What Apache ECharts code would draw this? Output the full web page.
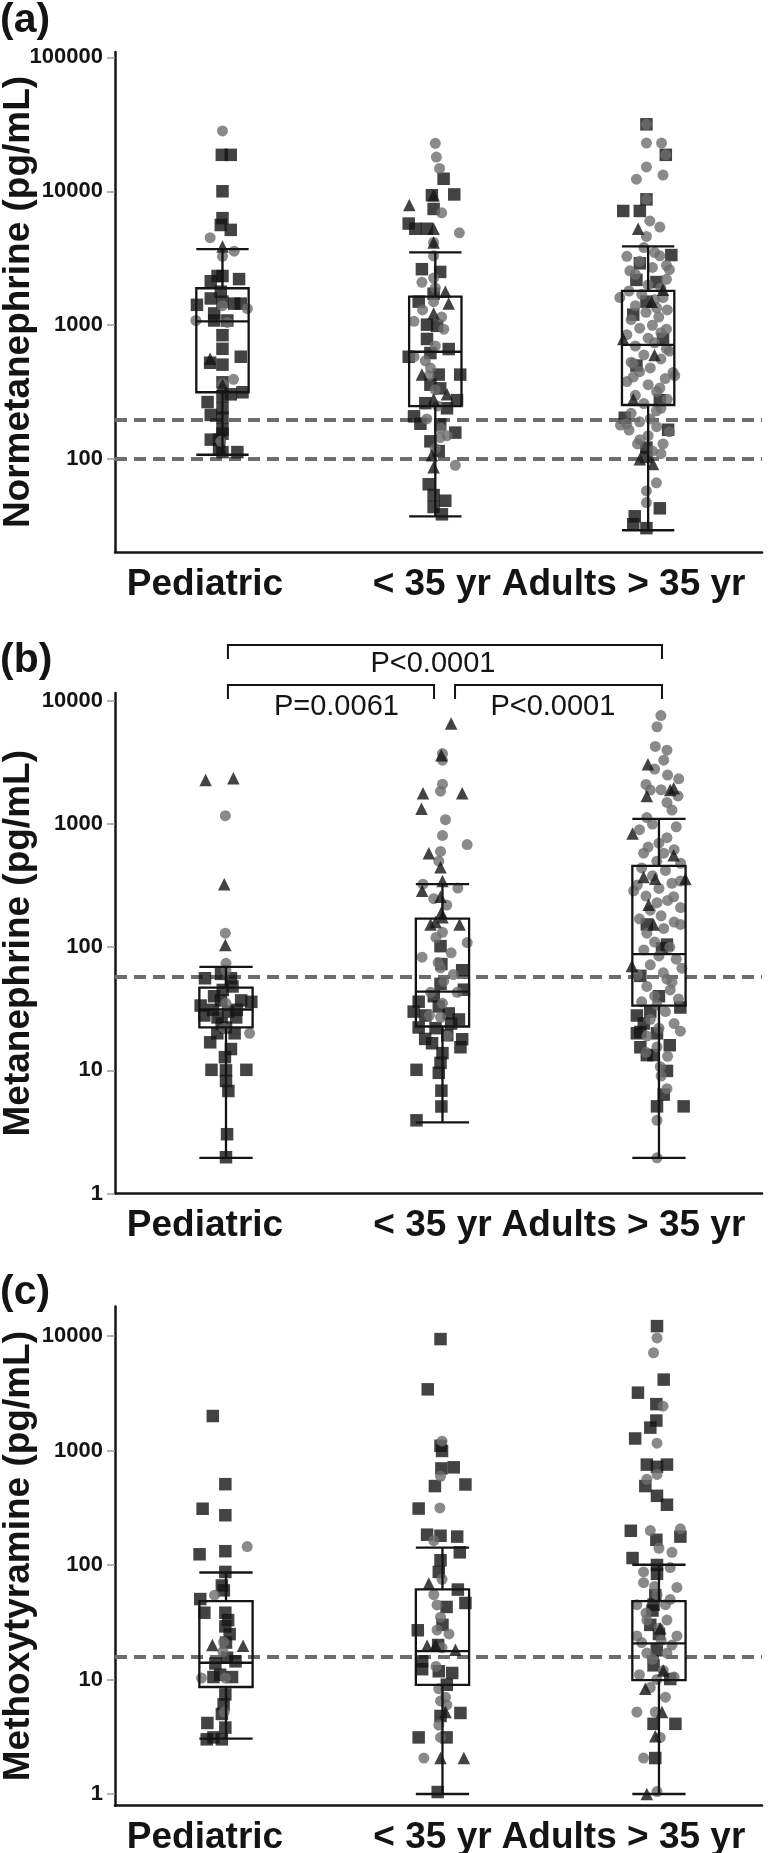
<!DOCTYPE html>
<html>
<head>
<meta charset="utf-8">
<script src="https://cdn.jsdelivr.net/npm/echarts@6/dist/echarts.min.js"></script>
<style>
html, body { margin: 0; padding: 0; background: #fff; }
#main { width: 774px; height: 1853px; }
</style>
</head>
<body>
<div id="main"></div>
<script>
// x axis groups
var groupNames = ['Pediatric', '< 35 yr', 'Adults > 35 yr'];
var groupCenters = [0.5, 1.5, 2.5];

// (a) Normetanephrine, points are [jitter (1/100 of a group), pg/mL]
var nmPedSquares = [[-0.3, 18700], [3.9, 18700], [0, 10000], [0, 6300], [-0.8, 5600], [3.9, 5150], [-2.3, 2330], [0, 2330], [-5.5, 2130], [7.8, 2210], [-0.8, 1780], [-12, 1420], [-5.5, 1585], [0, 1500], [5.5, 1450], [8.6, 1450], [-3.9, 1225], [2.3, 1085], [-3.9, 1085], [0, 843], [0, 667], [8.6, 582], [-5.8, 525], [0, 508], [0, 375], [3.9, 305], [9.4, 316], [0, 295], [-7, 267], [0, 240], [-5.5, 214], [0, 204], [0, 166], [0, 155], [-5.5, 140], [-1.6, 140], [-1.6, 119], [7, 113], [0, 113]];
var nmPedCircles = [[0, 28200], [-5.8, 4500], [5.5, 3570], [0, 3270], [11.7, 1330], [-12.5, 1085], [5.2, 395], [0, 367], [-0.8, 136], [2.3, 1050], [0, 1400]];
var nmPedTriangles = [[0, 3875], [-5.8, 562], [0, 360]];
var nmMidSquares = [[3.9, 12400], [8.9, 9470], [-1.6, 9340], [-0.8, 7380], [-12.5, 5740], [-9.4, 5250], [-3.9, 5250], [-6.3, 2620], [2.3, 2500], [-0.8, 1720], [-7.8, 1500], [-3.9, 1010], [0.8, 990], [-3.9, 790], [6.3, 664], [-12.5, 582], [-2.3, 620], [1.6, 428], [11.7, 428], [-2.3, 360], [2.3, 338], [10.2, 276], [-4.7, 262], [5.5, 240], [-10, 209], [-7, 184], [2.3, 182], [9.4, 158], [-2.3, 136], [1.6, 115], [-3.1, 65], [-0.8, 54], [4.7, 49], [-0.8, 44], [3.1, 38.8]];
var nmMidCircles = [[0, 22800], [0.5, 18000], [2, 14800], [3, 6900], [11.3, 4900], [-0.8, 4150], [-0.8, 3300], [-0.8, 2250], [-6.3, 2090], [0, 1900], [-0.8, 1500], [-10, 1070], [4, 935], [0, 700], [-10, 582], [-4.7, 543], [-2.3, 480], [0, 330], [5.5, 150], [2.3, 145], [9.4, 90], [0, 120], [-6, 1300], [3, 1150], [-3, 420], [1, 250], [-4, 200], [2.5, 170]];
var nmMidTriangles = [[-12.2, 7900], [-0.8, 9340], [-0.8, 5250], [-0.8, 4150], [4.7, 1780], [6.3, 1450], [-0.8, 1225], [-6.3, 428], [5.5, 305], [-0.8, 280], [-1.6, 107], [-0.8, 87]];
var nmAdultSquares = [[-0.8, 31600], [8.3, 18700], [-0.8, 8700], [-11.7, 7130], [-3.9, 7130], [10.9, 3340], [-3.9, 2900], [-5.5, 2180], [3.9, 2100], [-0.8, 1500], [-7, 1200], [7, 790], [-5.5, 500], [5.5, 276], [-11, 204], [9.4, 166], [-0.8, 122], [-0.8, 104], [5.5, 43], [-6.3, 37.5], [-7, 32.7], [-0.8, 30.6]];
var nmAdultCircles = [[-0.8, 31600], [-0.8, 22900], [6.3, 22900], [8.3, 18700], [-0.8, 15200], [7, 13200], [-5.5, 12300], [-0.8, 8700], [0.8, 6000], [5.5, 5400], [-0.8, 4600], [-10, 3270], [5.5, 3300], [8.6, 2800], [-8.6, 2550], [10, 2600], [-13.3, 1610], [8.6, 2200], [7, 1610], [4, 1350], [8.6, 935], [8.6, 665], [11.7, 444], [12.5, 420], [-7, 520], [-7, 410], [5.5, 340], [3.9, 230], [-10, 184], [-13, 180], [-3.9, 140], [7, 130], [3.9, 66.7], [-0.8, 58], [-0.8, 47.5],
  [-2, 3800], [3, 3500], [-4, 3000], [2, 2700], [-6, 2400], [0, 2000], [6, 1900], [-9, 1800], [-3, 1700], [3, 1550], [-6, 1400], [9, 1300], [-1, 1250], [5, 1150], [-8, 1100], [2, 1000], [-4, 950], [6, 880], [-10, 850], [0, 800], [3, 740], [-6, 700], [10, 640], [-2, 600], [6, 560], [-8, 530], [1, 480], [-4, 450], [8, 400], [-10, 380], [0, 360], [4, 320], [-6, 300], [9, 280], [-2, 260], [6, 240], [-8, 220], [1, 200], [-4, 190], [4, 175], [-9, 165], [10, 160], [0, 150], [-5, 130], [2, 115], [6, 110]];
var nmAdultTriangles = [[-4.7, 5250], [7, 1840], [-11.7, 790], [1.6, 1500], [-3.9, 100], [2.3, 92], [-7, 280], [3, 600]];
// low whisker, Q1, median, Q3, high whisker
var nmBoxes = [[108, 316, 1070, 1888, 3700], [37.4, 249, 634, 1638, 3500], [29.5, 254, 713, 1803, 3875]];
var nmRefLines = [100, 198];
var nmTicks = [100, 1000, 10000, 100000];

// (b) Metanephrine
var mnPedSquares = [[-9.7, 56], [-2.3, 60.7], [2.3, 56], [11.7, 36], [-10, 27.9], [-11.7, 33.6], [-5.5, 40], [4.7, 26.9], [7, 37], [-2.3, 37], [-3.9, 26.9], [0, 22.3], [-7.3, 16.9], [2.3, 14.9], [-0.5, 12.8], [-6.7, 10.1], [9.4, 10.1], [0, 10], [0, 8.2], [1.1, 6.8], [0.5, 3.03], [0, 1.97], [-1.5, 45], [3, 48], [-6, 31], [5, 31], [1, 30], [-2, 24], [4, 20], [-4, 20]];
var mnPedCircles = [[-0.3, 1170], [-0.3, 130], [0, 74], [10.9, 20], [0, 35], [-0.8, 22], [0, 65]];
var mnPedTriangles = [[-9.4, 2276], [3.4, 2360], [-0.8, 325], [-0.3, 104]];
var mnMidSquares = [[-0.9, 102], [-0.5, 73], [9.1, 65], [-0.9, 50.4], [9.9, 45.2], [-11, 36.1], [-13.3, 30], [-1.7, 33], [-7.9, 27.9], [2.9, 29], [7.6, 25.9], [-11, 22.3], [-3.2, 22], [2.2, 19.3], [9.1, 17.9], [8.3, 15.4], [-4.8, 16.6], [0, 13.8], [-0.9, 11.5], [-12, 10.1], [-1.7, 9.55], [-0.5, 6.84], [-0.5, 5.09], [-12, 3.93], [-4, 40], [4, 24], [-8, 18]];
var mnMidCircles = [[0, 3740], [0, 3300], [0, 2110], [-0.9, 1850], [1.4, 1086], [0, 809], [11.4, 682], [-0.9, 600], [-1.7, 500], [-9, 325], [7.1, 302], [-4, 248], [0, 132], [-9.4, 83], [11.4, 109], [-0.9, 68], [0.6, 53], [-5.5, 43], [6.8, 43], [0, 35], [-0.9, 27], [2.2, 19], [4, 90], [-3, 120], [2, 220], [-2, 75], [5, 60], [-6, 28]];
var mnMidTriangles = [[4, 6570], [-9, 1780], [9.1, 1780], [-9.7, 1330], [-0.5, 3630], [-6.3, 580], [-0.9, 447], [-9.4, 287], [0, 345], [-0.9, 257], [-0.5, 191], [-5.5, 153], [7.9, 153], [-3.2, 160], [0, 175]];
var mnAdultSquares = [[-5.6, 153], [-8.6, 58.5], [1.4, 98], [3.7, 105], [9.9, 32.4], [-10.2, 27.9], [-10.2, 20], [-8.6, 15.4], [-2.5, 13.3], [-0.9, 20], [3.7, 9.9], [2.2, 6.35], [-0.9, 5.1], [11.4, 5.1], [-5.6, 13.3], [-8.6, 20.5], [0, 40], [-4, 30], [5, 16], [-7, 24]];
var mnAdultCircles = [[0.9, 7600], [-0.9, 6170], [-1.7, 4270], [3.7, 3980], [2.2, 3300], [9.1, 2330], [-4, 1890], [8.8, 1694], [3.7, 1500], [-5.6, 1130], [3.7, 776], [-7.1, 580], [2.2, 580], [-11.7, 287], [9.9, 345], [6.8, 257], [-0.9, 230], [2.2, 142], [-5.6, 130], [9.9, 153], [10.6, 67.6], [3.7, 55], [-5.6, 48], [5.2, 45], [-0.9, 34], [9.9, 20.8], [-5.6, 19], [-0.9, 15.5], [0.6, 10.7], [3.7, 7.1], [-0.9, 3.93], [-0.9, 1.95],
  [-2, 2800], [4, 2500], [-6, 2100], [1, 1900], [6, 1300], [-3, 1000], [8, 950], [-9, 900], [0, 700], [-5, 650], [7, 620], [-1, 500], [10, 480], [-8, 440], [3, 420], [-3, 380], [6, 330], [-10, 320], [0, 300], [-6, 260], [4, 240], [10, 210], [-4, 200], [1, 180], [-9, 170], [7, 160], [-2, 110], [5, 100], [-7, 95], [0, 85], [8, 80], [-4, 72], [2, 62], [-10, 60], [6, 52], [-2, 40], [9, 38], [-8, 36], [3, 30], [-4, 26], [7, 24], [0, 22], [-6, 14], [4, 13], [1, 9]];
var mnAdultTriangles = [[-5.1, 3060], [-5.6, 1694], [5.2, 1893], [6.8, 1950], [-12.2, 840], [6.8, 559], [-7.1, 371], [-1.7, 360], [12.2, 358], [-4.8, 221], [-12.5, 70.3], [-2.5, 153]];
var mnBoxes = [[1.95, 22.3, 31.2, 46.9, 69.3], [3.78, 22.7, 43.6, 171, 325], [1.95, 33.6, 87.9, 457, 1104]];
var mnRefLines = [58];
var mnTicks = [1, 10, 100, 1000, 10000];
// significance brackets in (b): ends on the x axis, label position, row
var sigPairs = [[0.509, 2.514], [0.509, 1.461], [1.558, 2.514]];
var sigRows = [1, 2, 2];
var sigTextX = [1.456, 1.01, 2.01];
var sigLabels = ['P<0.0001', 'P=0.0061', 'P<0.0001'];

// (c) Methoxytyramine
var mtPedSquares = [[-6.1, 2000], [-0.3, 508], [-10.8, 310], [-0.3, 272], [-12.2, 124], [-0.3, 132], [-0.3, 87], [-1.9, 66.2], [-11.9, 50.4], [-10, 38.3], [-0.3, 38.3], [-0.3, 29.1], [1.7, 24.9], [-4.9, 13.8], [4.4, 14.4], [0.5, 15.5], [-5.8, 10.5], [2.8, 10.5], [-2.7, 11], [-0.3, 7.4], [-1.1, 6.06], [-1.9, 5], [-0.3, 3.8], [-8.6, 4.17], [-5.8, 3.12], [-1.9, 3.0], [-8.9, 3.0], [0, 21], [1, 33], [-1, 60]];
var mtPedCircles = [[9.8, 145], [-5.3, 54.5], [-1.1, 21.3], [-1.4, 17.5], [-11.3, 10.3], [-0.3, 10.3], [-0.8, 5.2]];
var mtPedTriangles = [[-6.3, 20], [7.9, 19.7]];
var mtMidSquares = [[-0.9, 9400], [-6.8, 3420], [-0.2, 991], [-0.9, 1100], [-0.5, 697], [5.2, 713], [-3.5, 489], [10.6, 505], [-11, 311], [-7.1, 184], [-0.9, 180], [6.8, 177], [8, 129], [-0.9, 110], [-1.7, 87], [7.1, 61], [10.6, 46.6], [1.9, 43], [-11.4, 26.9], [-9.4, 14.4], [-9.4, 12.3], [4.5, 11.4], [-1.7, 11.8], [8.3, 5.1], [-11, 3.12], [1.9, 3.12], [-0.9, 4.8], [-2.2, 1.04], [0, 30], [-2, 20], [2, 9]];
var mtMidCircles = [[-0.2, 1205], [-0.9, 595], [-1.2, 315], [-4, 163], [-0.2, 75], [-2.5, 44.8], [-0.9, 35], [-2.5, 27], [-0.2, 18.9], [-1.7, 8.3], [-0.9, 6.5], [1.4, 7], [-0.9, 3.12], [-8.6, 2.06], [-1.7, 4], [-4, 55], [3, 25], [-3, 13], [2, 6]];
var mtMidTriangles = [[-6.3, 68.8], [-7.1, 19.7], [-3.2, 20], [6, 18.2], [1.4, 5.2], [-0.9, 2.06], [9.9, 2.06]];
var mtAdultSquares = [[-0.9, 12200], [2.2, 4160], [-9.7, 3200], [-1.2, 2540], [-1.2, 1826], [-4, 1585], [-11, 1273], [-5.6, 753], [3.7, 753], [-0.9, 720], [-6.3, 489], [-0.9, 402], [3.7, 336], [-13, 199], [9.9, 177], [-1.2, 166], [-12.2, 115], [-0.9, 100], [-0.9, 83.7], [-1.7, 54.5], [-2.5, 45], [-4, 30], [-2.5, 13.3], [5.2, 10.1], [7.6, 4.1], [-2.5, 4.1], [-1.7, 2.06], [-3, 40], [0, 25], [-1, 18]];
var mtAdultCircles = [[-0.9, 9620], [-2.5, 7140], [1.9, 2440], [-0.9, 1159], [-0.9, 618], [-5.6, 560], [9.9, 207], [-4, 200], [0, 140], [6, 129], [-7.1, 87], [5.2, 95], [8.3, 63.7], [-7.1, 70], [-0.9, 55], [5.2, 50], [-10.2, 45], [-5.6, 33], [3.7, 33], [-10.2, 24], [8.3, 24], [-5.6, 17], [3.7, 17], [-8, 21], [0, 28], [6, 20], [-3, 15], [2, 12], [-9, 11], [7, 10.5], [-4, 8.5], [3, 7], [-10.2, 5.2], [-1.7, 5.2], [0.6, 3.12], [-7.1, 2.06], [-0.9, 1.05], [-2, 65], [3, 45], [-6, 38], [1, 22], [-1, 10]];
var mtAdultTriangles = [[-6.3, 8.3], [1.4, 5.2], [-1.7, 3.2], [-5.6, 1.0], [0.6, 28], [2, 12]];
var mtBoxes = [[3.04, 8.6, 14.0, 48.4, 86], [1.0, 8.98, 17.7, 61.2, 141.6], [1.0, 9.86, 20.7, 48.4, 100.5]];
var mtRefLines = [15.8];
var mtTicks = [1, 10, 100, 1000, 10000];

var panels = [
  { letter: '(a)', title: 'Normetanephrine (pg/mL)', squares: [nmPedSquares, nmMidSquares, nmAdultSquares], circles: [nmPedCircles, nmMidCircles, nmAdultCircles], triangles: [nmPedTriangles, nmMidTriangles, nmAdultTriangles], boxes: nmBoxes, refs: nmRefLines, ticks: nmTicks,
    grid: { top: 52, height: 500 }, xRange: [-0.005, 3.035], yRange: [20.3, 109500], letterTop: 0, labelShift: [-17.5, -3.5, -24.5] },
  { letter: '(b)', title: 'Metanephrine (pg/mL)', squares: [mnPedSquares, mnMidSquares, mnAdultSquares], circles: [mnPedCircles, mnMidCircles, mnAdultCircles], triangles: [mnPedTriangles, mnMidTriangles, mnAdultTriangles], boxes: mnBoxes, refs: mnRefLines, ticks: mnTicks,
    grid: { top: 693, height: 500.5 }, xRange: [-0.0127, 2.976], yRange: [1, 11600], letterTop: 640, labelShift: [-21, -10, -35.5] },
  { letter: '(c)', title: 'Methoxytyramine (pg/mL)', squares: [mtPedSquares, mtMidSquares, mtAdultSquares], circles: [mtPedCircles, mtMidCircles, mtAdultCircles], triangles: [mtPedTriangles, mtMidTriangles, mtAdultTriangles], boxes: mtBoxes, refs: mtRefLines, ticks: mtTicks,
    grid: { top: 1306.5, height: 499.2 }, xRange: [-0.0127, 2.976], yRange: [0.79, 18100], letterTop: 1272, labelShift: [-21, -10, -35.5] }
];

var INK = '#141414';
var GREY = '#6d6d6d';
var FONT = '"Liberation Sans", Arial, sans-serif';
var GRID_LEFT = 115, GRID_RIGHT = 12, PAGE_W = 774;

function place(groups) {
  var out = [];
  groups.forEach(function (pts, g) {
    pts.forEach(function (p) { out.push([groupCenters[g] + p[0] / 100, p[1]]); });
  });
  return out;
}

function renderBox(params, api) {
  var x = api.value(0);
  var half = 0.123;
  var xl = api.coord([x - half, 10])[0];
  var xr = api.coord([x + half, 10])[0];
  var xc = api.coord([x, 10])[0];
  var y = [1, 2, 3, 4, 5].map(function (d) { return api.coord([x, api.value(d)])[1]; });
  var st = { stroke: INK, lineWidth: 2.3, fill: null };
  return {
    type: 'group',
    children: [
      { type: 'line', shape: { x1: xc, y1: y[4], x2: xc, y2: y[3] }, style: st },
      { type: 'line', shape: { x1: xc, y1: y[1], x2: xc, y2: y[0] }, style: st },
      { type: 'line', shape: { x1: xl, y1: y[4], x2: xr, y2: y[4] }, style: st },
      { type: 'line', shape: { x1: xl, y1: y[0], x2: xr, y2: y[0] }, style: st },
      { type: 'rect', shape: { x: xl, y: y[3], width: xr - xl, height: y[1] - y[3] }, style: st },
      { type: 'line', shape: { x1: xl, y1: y[2], x2: xr, y2: y[2] }, style: st }
    ]
  };
}

function renderBracket(params, api) {
  var top = params.coordSys.y;
  var x1 = api.coord([api.value(0), 10])[0];
  var x2 = api.coord([api.value(1), 10])[0];
  var xt = api.coord([api.value(2), 10])[0];
  var row = api.value(3);
  var yLine = row === 1 ? top - 48 : top - 8;
  var yText = row === 1 ? top - 29 : top + 14;
  return {
    type: 'group',
    children: [
      { type: 'polyline', shape: { points: [[x1, yLine + 14], [x1, yLine], [x2, yLine], [x2, yLine + 14]] }, style: { stroke: INK, lineWidth: 2, fill: null } },
      { type: 'text', style: { text: sigLabels[params.dataIndex], x: xt, y: yText, align: 'center', verticalAlign: 'middle', font: '29px ' + FONT, fill: INK } }
    ]
  };
}

var option = { animation: false, backgroundColor: '#fff', grid: [], xAxis: [], yAxis: [], series: [], graphic: [] };

panels.forEach(function (p, i) {
  option.grid.push({ left: GRID_LEFT, right: GRID_RIGHT, top: p.grid.top, height: p.grid.height, outerBoundsMode: 'none', containLabel: false });
  // the group names sit a little left of the groups in the figure
  var pxPerUnit = (PAGE_W - GRID_LEFT - GRID_RIGHT) / (p.xRange[1] - p.xRange[0]);
  var labelAt = groupCenters.map(function (c, g) { return c + p.labelShift[g] / pxPerUnit; });
  option.xAxis.push({
    type: 'value', gridIndex: i, min: p.xRange[0], max: p.xRange[1],
    axisLine: { onZero: false, lineStyle: { color: INK, width: 2.5 } },
    axisTick: { show: false }, splitLine: { show: false },
    axisLabel: {
      customValues: labelAt, margin: 14, showMinLabel: true, showMaxLabel: true, hideOverlap: false,
      fontSize: 37, fontWeight: 'bold', fontFamily: FONT, color: INK, lineHeight: 37,
      formatter: function (v) { return groupNames[Math.max(0, Math.round(v - 0.5))]; }
    }
  });
  option.yAxis.push({
    type: 'log', logBase: 10, gridIndex: i, min: p.yRange[0], max: p.yRange[1],
    name: p.title, nameLocation: 'middle', nameGap: 78, nameMoveOverlap: false,
    nameTextStyle: { fontSize: 37, fontWeight: 'bold', fontFamily: FONT, color: INK },
    axisLine: { onZero: false, lineStyle: { color: INK, width: 2.5 } },
    axisTick: { customValues: p.ticks, length: 8, lineStyle: { color: '#999', width: 1.5 } },
    splitLine: { show: false },
    axisLabel: {
      customValues: p.ticks, margin: 12, color: INK, fontSize: 22, fontWeight: 'bold',
      fontFamily: FONT, showMinLabel: true, showMaxLabel: true,
      formatter: function (v) { return String(Math.round(v)); }
    }
  });
  option.series.push({
    type: 'scatter', xAxisIndex: i, yAxisIndex: i, symbol: 'rect', symbolSize: 12.5, z: 2,
    itemStyle: { color: INK }, data: place(p.squares),
    markLine: {
      silent: true, symbol: 'none', z: 1, label: { show: false },
      lineStyle: { color: '#6e6e6e', width: 4, type: [12, 7] },
      data: p.refs.map(function (v) { return { yAxis: v }; })
    }
  });
  option.series.push({
    type: 'scatter', xAxisIndex: i, yAxisIndex: i, symbol: 'circle', symbolSize: 11, z: 3,
    itemStyle: { color: GREY }, data: place(p.circles)
  });
  option.series.push({
    type: 'scatter', xAxisIndex: i, yAxisIndex: i, symbol: 'triangle', symbolSize: 12.5, z: 4,
    itemStyle: { color: INK }, data: place(p.triangles)
  });
  option.series.push({
    type: 'custom', xAxisIndex: i, yAxisIndex: i, z: 5, renderItem: renderBox,
    encode: { x: 0, y: [1, 2, 3, 4, 5] },
    data: p.boxes.map(function (b, g) { return [groupCenters[g]].concat(b); })
  });
  option.graphic.push({
    type: 'text', left: 0, top: p.letterTop,
    style: { text: p.letter, font: 'bold 41px ' + FONT, fill: INK }
  });
});

option.series.push({
  type: 'custom', xAxisIndex: 1, yAxisIndex: 1, z: 6, renderItem: renderBracket,
  encode: { x: [0, 1, 2], y: 3 },
  data: sigPairs.map(function (s, k) { return [s[0], s[1], sigTextX[k], sigRows[k]]; })
});

var chart = echarts.init(document.getElementById('main'), null, { renderer: 'canvas' });
chart.setOption(option);
</script>
</body>
</html>
